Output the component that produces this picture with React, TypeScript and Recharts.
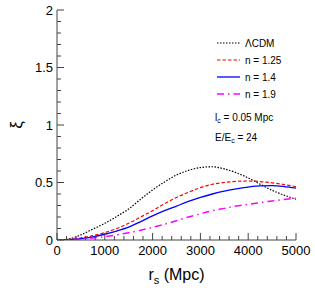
import { LineChart, Line, XAxis, YAxis, Legend } from "recharts";

const FONT = "'Liberation Sans', Arial, sans-serif";

// r_s values (Mpc)
const rs = [0, 250, 500, 750, 1000, 1250, 1500, 1750, 2000, 2250, 2500, 2750, 3000, 3250, 3500, 3750, 4000, 4250, 4500, 4750, 5000];

// xi for each model
const lcdm = [0, 0.01, 0.045, 0.095, 0.145, 0.205, 0.27, 0.355, 0.435, 0.505, 0.565, 0.605, 0.63, 0.637, 0.618, 0.585, 0.54, 0.485, 0.432, 0.39, 0.355];
const n125 = [0, 0.005, 0.018, 0.038, 0.064, 0.1, 0.145, 0.2, 0.255, 0.315, 0.37, 0.415, 0.455, 0.485, 0.5, 0.51, 0.513, 0.508, 0.497, 0.482, 0.464];
const n14 = [0, 0.003, 0.012, 0.027, 0.05, 0.078, 0.112, 0.16, 0.21, 0.255, 0.295, 0.335, 0.37, 0.4, 0.425, 0.445, 0.46, 0.47, 0.472, 0.465, 0.452];
const n19 = [0, 0.002, 0.008, 0.017, 0.029, 0.045, 0.063, 0.085, 0.11, 0.137, 0.168, 0.2, 0.228, 0.255, 0.275, 0.295, 0.31, 0.325, 0.34, 0.352, 0.363];

const xMajor = [0, 1000, 2000, 3000, 4000, 5000];
const yMajor = [0, 0.5, 1, 1.5, 2];
const xTicks = Array.from({ length: 26 }, (_, i) => i * 200);
const yTicks = Array.from({ length: 21 }, (_, i) => i / 10);

const data = rs.map((r, i) => ({ r, lcdm: lcdm[i], n125: n125[i], n14: n14[i], n19: n19[i] }));

const series = [
  { key: "lcdm", name: "\u039BCDM", color: "#000000", dash: "1.5 1.5", width: 1.2 },
  { key: "n125", name: "n = 1.25", color: "#ff0000", dash: "3.5 2", width: 1.2 },
  { key: "n14", name: "n = 1.4", color: "#0000ff", dash: undefined, width: 1.3 },
  { key: "n19", name: "n = 1.9", color: "#ff00ff", dash: "7 4 1.5 4", width: 1.5 },
];

const AXIS = "#444";

const isMajor = (v: number, list: number[]) => list.some((m) => Math.abs(m - v) < 1e-6);

const BottomTick = (props: any) => {
  const { x, y, payload } = props;
  const major = isMajor(payload.value, xMajor);
  return (
    <g>
      <line x1={x} x2={x} y1={y} y2={y - (major ? 7 : 4)} stroke={AXIS} />
      {major && (
        <text x={x} y={y + 15} textAnchor="middle" fontSize={13} fontFamily={FONT} fill="#000">
          {payload.value}
        </text>
      )}
    </g>
  );
};

const TopTick = (props: any) => {
  const { x, y, payload } = props;
  const major = isMajor(payload.value, xMajor);
  return <line x1={x} x2={x} y1={y} y2={y + (major ? 7 : 4)} stroke={AXIS} />;
};

const LeftTick = (props: any) => {
  const { x, y, payload } = props;
  const major = isMajor(payload.value, yMajor);
  return (
    <g>
      <line x1={x} x2={x + (major ? 7 : 4)} y1={y} y2={y} stroke={AXIS} />
      {major && (
        <text x={x - 4} y={y} dy="0.36em" textAnchor="end" fontSize={13} fontFamily={FONT} fill="#000">
          {payload.value}
        </text>
      )}
    </g>
  );
};

const RightTick = (props: any) => {
  const { x, y, payload } = props;
  const major = isMajor(payload.value, yMajor);
  return <line x1={x} x2={x - (major ? 7 : 4)} y1={y} y2={y} stroke={AXIS} />;
};

const XLabel = (props: any) => {
  const { viewBox } = props;
  return (
    <text x={viewBox.x + viewBox.width / 2} y={viewBox.y + 40} textAnchor="middle" fontSize={16} fontFamily={FONT} fill="#000">
      r<tspan fontSize={11} dy={4}>s</tspan>
      <tspan dy={-4}> (Mpc)</tspan>
    </text>
  );
};

const YLabel = (props: any) => {
  const { viewBox } = props;
  const cx = 16;
  const cy = viewBox.y + viewBox.height / 2;
  return (
    <text x={cx} y={cy} textAnchor="middle" dominantBaseline="central" fontSize={17} fontFamily={FONT} fill="#000" transform={`rotate(-90 ${cx} ${cy})`}>
      ξ
    </text>
  );
};

const LegendBox = () => (
  <svg width={110} height={120} style={{ display: "block" }}>
    {series.map((s, i) => (
      <g key={s.key}>
        <line x1={7} x2={30} y1={9 + i * 17} y2={9 + i * 17} stroke={s.color} strokeWidth={s.width} strokeDasharray={s.dash} />
        <text x={35} y={9 + i * 17} dy="0.36em" fontSize={10} fontFamily={FONT} fill="#000">
          {s.name}
        </text>
      </g>
    ))}
    <text x={5} y={83} dy="0.36em" fontSize={10} fontFamily={FONT} fill="#000">
      l<tspan fontSize={7} dy={2}>c</tspan>
      <tspan dy={-2}> = 0.05 Mpc</tspan>
    </text>
    <text x={5} y={103} dy="0.36em" fontSize={10} fontFamily={FONT} fill="#000">
      E/E<tspan fontSize={7} dy={2}>c</tspan>
      <tspan dy={-2}> = 24</tspan>
    </text>
  </svg>
);

export default function App() {
  return (
    <div style={{ position: "absolute", left: 0, top: 0, background: "#fff" }}>
      <LineChart width={315} height={303} data={data} margin={{ top: 10, right: 19, left: 0, bottom: 0 }}>
        <XAxis
          dataKey="r"
          type="number"
          domain={[0, 5000]}
          ticks={xTicks}
          interval={0}
          tickSize={0}
          tickMargin={0}
          tick={BottomTick}
          height={63}
          stroke={AXIS}
          label={XLabel}
        />
        <XAxis
          xAxisId="top"
          orientation="top"
          dataKey="r"
          type="number"
          domain={[0, 5000]}
          ticks={xTicks}
          interval={0}
          tickSize={0}
          tickMargin={0}
          tick={TopTick}
          height={0}
          stroke={AXIS}
        />
        <YAxis
          type="number"
          domain={[0, 2]}
          ticks={yTicks}
          interval={0}
          tickSize={0}
          tickMargin={0}
          tick={LeftTick}
          width={57}
          stroke={AXIS}
          label={YLabel}
          allowDataOverflow
        />
        <YAxis
          yAxisId="right"
          orientation="right"
          type="number"
          domain={[0, 2]}
          ticks={yTicks}
          interval={0}
          tickSize={0}
          tickMargin={0}
          tick={RightTick}
          width={0}
          stroke={AXIS}
          allowDataOverflow
        />
        <Legend
          layout="vertical"
          align="center"
          verticalAlign="middle"
          wrapperStyle={{ left: 210, top: 34, width: 110, height: 120 }}
          content={LegendBox}
        />
        {series.map((s) => (
          <Line
            key={s.key}
            type="monotone"
            dataKey={s.key}
            name={s.name}
            stroke={s.color}
            strokeWidth={s.width}
            strokeDasharray={s.dash}
            dot={false}
            activeDot={false}
            isAnimationActive={false}
          />
        ))}
      </LineChart>
    </div>
  );
}
